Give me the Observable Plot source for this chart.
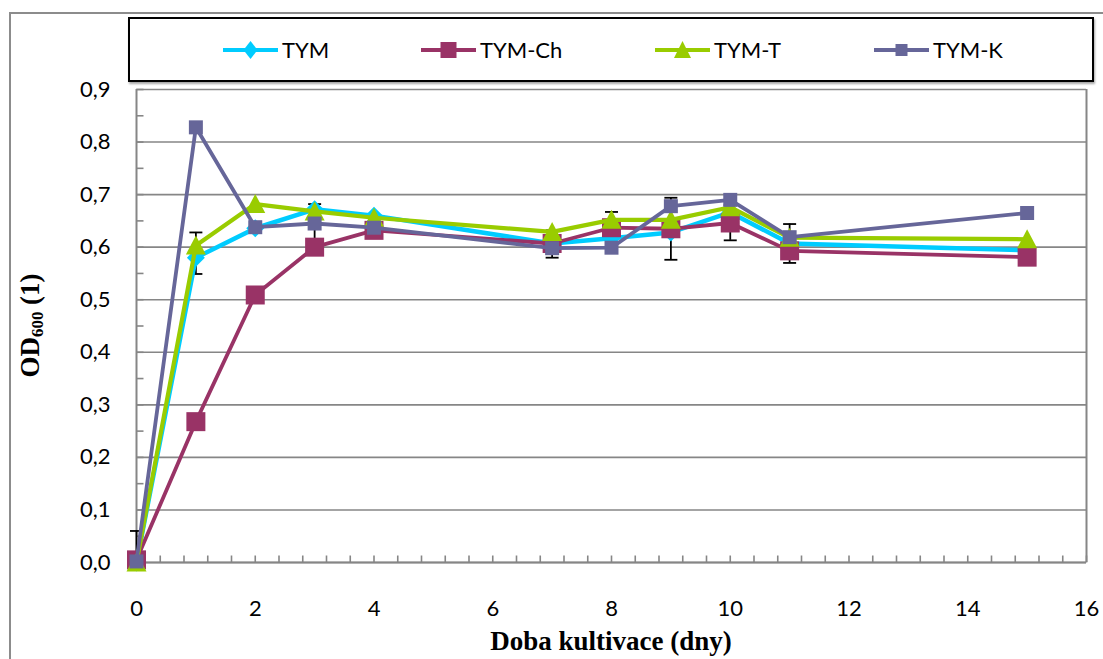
<!DOCTYPE html>
<html><head><meta charset="utf-8">
<script src="https://cdn.jsdelivr.net/npm/d3@7"></script>
<script src="https://cdn.jsdelivr.net/npm/@observablehq/plot@0.6"></script>
<style>
body{margin:0;background:#fff;}
#wrap{position:relative;width:1103px;height:659px;overflow:hidden;background:#fff;}
#chart{position:absolute;left:0;top:0;}
#frameTop{position:absolute;left:9px;top:12px;width:1094px;height:0;border-top:2px solid #8c8c8c;}
#frameLeft{position:absolute;left:9px;top:12px;width:0;height:647px;border-left:2px solid #8c8c8c;}
#legend{position:absolute;left:128px;top:17px;width:962px;height:61px;border:2px solid #000;box-shadow:1px 2px 2px rgba(0,0,0,0.35);background:#fff;font-family:Lato,sans-serif;font-size:22px;color:#000;}
.item{position:absolute;top:0;height:61px;display:flex;align-items:center;}
.item span{margin-left:4px;}
</style>
</head><body>
<div id="wrap">
  <div id="chart"></div>
  <div id="frameTop"></div>
  <div id="frameLeft"></div>
  <div id="legend"></div>
</div>
<script>
// ---- data ----
const days  = [0, 1, 2, 3, 4, 7, 8, 9, 10, 11, 15];
const tym   = [0.000, 0.580, 0.636, 0.672, 0.660, 0.607, 0.617, 0.628, 0.666, 0.607, 0.594];
const tymCh = [0.005, 0.268, 0.509, 0.600, 0.632, 0.607, 0.637, 0.635, 0.646, 0.593, 0.581];
const tymT  = [0.000, 0.603, 0.682, 0.668, 0.656, 0.629, 0.652, 0.652, 0.676, 0.618, 0.615];
const tymK  = [0.002, 0.828, 0.638, 0.645, 0.637, 0.598, 0.599, 0.678, 0.690, 0.619, 0.665];
const seriesNames  = ["TYM", "TYM-Ch", "TYM-T", "TYM-K"];
const seriesColors = ["#00CCFF", "#993366", "#99CC00", "#666699"];

// error bars (day, low, high)
const errDays = [0, 1, 3, 7, 8, 9, 10, 11];
const errLow  = [0.000, 0.549, 0.615, 0.580, 0.627, 0.576, 0.613, 0.570];
const errHigh = [0.060, 0.628, 0.682, 0.632, 0.667, 0.694, 0.680, 0.644];

// axis ticks
const xTicks = [0, 2, 4, 6, 8, 10, 12, 14, 16];
const yTicks = [0, 0.1, 0.2, 0.3, 0.4, 0.5, 0.6, 0.7, 0.8, 0.9];
const xMinor = d3.range(0, 41).map(i => i * 0.4);
const yMinor = d3.range(0, 19).map(i => i * 0.05);

// ---- symbols ----
const diamondSym = {draw(c){ const r = 9; c.moveTo(0,-r); c.lineTo(r,0); c.lineTo(0,r); c.lineTo(-r,0); c.closePath(); }};
const bigSquare  = {draw(c){ const h = 9.5; c.moveTo(-h,-h); c.lineTo(h,-h); c.lineTo(h,h); c.lineTo(-h,h); c.closePath(); }};
const triSym     = {draw(c){ c.moveTo(0,-10); c.lineTo(10,9); c.lineTo(-10,9); c.closePath(); }};
const smallSquare= {draw(c){ const h = 7; c.moveTo(-h,-h); c.lineTo(h,-h); c.lineTo(h,h); c.lineTo(-h,h); c.closePath(); }};
const capSym     = {draw(c){ c.moveTo(-6.5,0); c.lineTo(6.5,0); }};
const yTickSym   = {draw(c){ c.moveTo(0,0); c.lineTo(7,0); }};
const xTickSym   = {draw(c){ c.moveTo(0,0); c.lineTo(0,-7); }};

const seriesValues = [tym, tymCh, tymT, tymK];
const seriesSymbols = [diamondSym, bigSquare, triSym, smallSquare];
const seriesWidths = [4.5, 3.8, 4.2, 3.8];

const errRows = errDays.map((d, i) => ({day: d, low: errLow[i], high: errHigh[i]}));

const seriesMarks = seriesNames.flatMap((name, k) => {
  const rows = days.map((d, i) => ({day: d, value: seriesValues[k][i]}));
  return [
    Plot.line(rows, {x: "day", y: "value", stroke: seriesColors[k], strokeWidth: seriesWidths[k], strokeLinejoin: "round"}),
    Plot.dot(rows, {x: "day", y: "value", symbol: seriesSymbols[k], r: 5, fill: seriesColors[k], stroke: "none"})
  ];
});

const grey = "#868686";
const chart = Plot.plot({
  width: 1103, height: 659,
  marginTop: 89, marginBottom: 97, marginLeft: 136, marginRight: 17,
  x: {domain: [0, 16], label: null},
  y: {domain: [0, 0.9], label: null},
  style: {fontFamily: "Lato, sans-serif", fontSize: "22px", color: "#000", background: "transparent", overflow: "visible"},
  marks: [
    Plot.ruleY(yTicks, {stroke: grey, strokeWidth: 1.6}),
    Plot.ruleX([0, 16], {stroke: grey, strokeWidth: 2}),
    Plot.ruleY([0], {stroke: grey, strokeWidth: 2}),
    Plot.dot(yMinor, {x: () => 0, y: d => d, symbol: yTickSym, stroke: grey, strokeWidth: 1.6, fill: "none"}),
    Plot.dot(xMinor, {x: d => d, y: () => 0, symbol: xTickSym, stroke: grey, strokeWidth: 1.6, fill: "none"}),
    Plot.axisX(xTicks, {tickSize: 0, tickPadding: 38, tickFormat: d => String(d), fontSize: 22}),
    Plot.axisY(yTicks, {tickSize: 0, tickPadding: 26, tickFormat: d => d.toFixed(1).replace(".", ","), fontSize: 22}),
    Plot.ruleX(errRows, {x: "day", y1: "low", y2: "high", stroke: "#000", strokeWidth: 1.8}),
    Plot.dot(errRows, {x: "day", y: "low", symbol: capSym, stroke: "#000", strokeWidth: 1.8, fill: "none"}),
    Plot.dot(errRows, {x: "day", y: "high", symbol: capSym, stroke: "#000", strokeWidth: 1.8, fill: "none"}),
    ...seriesMarks
  ]
});

const svg = d3.select(chart);
const yt = svg.append("text")
  .attr("transform", "translate(39,325.5) rotate(-90)")
  .attr("text-anchor", "middle")
  .attr("font-family", "'Liberation Serif', 'Times New Roman', serif")
  .attr("font-weight", "bold")
  .attr("font-size", 27)
  .attr("fill", "#000");
yt.append("tspan").text("OD");
yt.append("tspan").attr("font-size", 17).attr("dy", 4).text("600");
yt.append("tspan").attr("dy", -4).text(" (1)");

svg.append("text")
  .attr("x", 611).attr("y", 650)
  .attr("text-anchor", "middle")
  .attr("font-family", "'Liberation Serif', 'Times New Roman', serif")
  .attr("font-weight", "bold")
  .attr("font-size", 27)
  .attr("fill", "#000")
  .text("Doba kultivace (dny)");

document.getElementById("chart").appendChild(chart);

// ---- legend ----
const legendLefts = [93, 291, 525, 744];
const legendShapes = [
  c => `<path d="M27.5,3 L34.5,12 L27.5,21 L20.5,12 Z" fill="${c}"/>`,
  c => `<rect x="19.5" y="4" width="16" height="16" fill="${c}"/>`,
  c => `<path d="M27.5,3 L36,20 L19,20 Z" fill="${c}"/>`,
  c => `<rect x="21.5" y="6" width="12" height="12" fill="${c}"/>`
];
const legend = document.getElementById("legend");
seriesNames.forEach((name, k) => {
  const div = document.createElement("div");
  div.className = "item";
  div.style.left = legendLefts[k] + "px";
  div.innerHTML = `<svg width="55" height="24"><line x1="0" y1="12" x2="55" y2="12" stroke="${seriesColors[k]}" stroke-width="4"/>${legendShapes[k](seriesColors[k])}</svg><span>${name}</span>`;
  legend.appendChild(div);
});
</script>
</body></html>
